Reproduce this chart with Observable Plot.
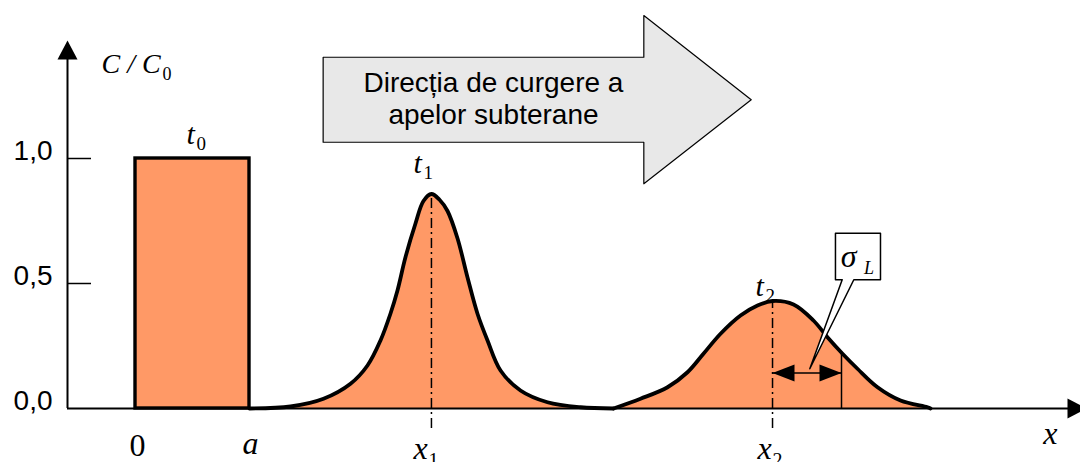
<!DOCTYPE html>
<html>
<head>
<meta charset="utf-8">
<script src="https://cdn.jsdelivr.net/npm/d3@7"></script>
<script src="https://cdn.jsdelivr.net/npm/@observablehq/plot@0.6"></script>
<style>
html, body { margin: 0; padding: 0; background: #fff; }
#chart svg { display: block; }
</style>
</head>
<body>
<div id="chart"></div>
<script>
// ---- Data (x in units of a, concentration C/C0) ----
const sourceX = [0, 1];          // slug from x = 0 to x = a
const sourceC = 1.0;             // C/C0 at t0

const plume1X = [1.0, 1.36, 1.649, 1.886, 2.035, 2.149, 2.237, 2.298, 2.368, 2.456, 2.526, 2.596, 2.667, 2.737, 2.825, 2.912, 3.0, 3.088, 3.202, 3.377, 3.614, 3.904, 4.193];
const plume1C = [0.0, 0.008, 0.039, 0.099, 0.172, 0.272, 0.38, 0.472, 0.605, 0.74, 0.83, 0.858, 0.835, 0.79, 0.68, 0.525, 0.379, 0.272, 0.152, 0.072, 0.025, 0.005, 0.0];

const plume2X = [4.193, 4.43, 4.667, 4.842, 4.982, 5.132, 5.307, 5.456, 5.588, 5.772, 5.947, 6.07, 6.202, 6.333, 6.509, 6.711, 6.947, 6.974];
const plume2C = [0.0, 0.039, 0.085, 0.145, 0.219, 0.299, 0.372, 0.412, 0.43, 0.416, 0.352, 0.285, 0.219, 0.159, 0.085, 0.032, 0.005, 0.0];

const peakX = [2.596, 5.588];   // x1, x2
const peakC = [0.858, 0.43];
const sigmaX = 6.193;            // x2 + sigma_L
const sigmaC = 0.22;
const sigmaArrowC = 0.142;

const yTicks = [0, 0.5, 1.0];
const flowText = "Direcția de curgere a\napelor subterane";

// annotation shapes (data units)
const flowArrow = [[1.646,1.405],[4.459,1.405],[4.459,1.572],[5.401,1.235],[4.459,0.899],[4.459,1.065],[1.646,1.065],[1.646,1.405]];
const callout = [[6.14,0.701],[6.535,0.701],[6.535,0.515],[6.301,0.515],[5.915,0.159],[6.199,0.515],[6.14,0.515],[6.14,0.701]];

// ---- Build tables ----
const plumes = [
  ...plume1X.map((x, i) => ({series: "t1", x, c: plume1C[i]})),
  ...plume2X.map((x, i) => ({series: "t2", x, c: plume2C[i]}))
];
const X0 = -0.5965;   // position of the vertical axis
const XMAX = 8.2895;
const ORANGE = "#FF9966";
const serif = "Liberation Serif, Times New Roman, serif";
const sans = "Liberation Sans, Arial, sans-serif";

const headShape = {
  draw(ctx, l, r) {
    ctx.moveTo(0, -l);
    ctx.lineTo(r, 0);
    ctx.lineTo(-r, 0);
    ctx.closePath();
  }
};

const peaks = peakX.map((x, i) => ({x, c: peakC[i]}));

const chart = Plot.plot({
  width: 1080,
  height: 462,
  marginTop: 0, marginRight: 0, marginBottom: 0, marginLeft: 67,
  x: {domain: [X0, XMAX], axis: null},
  y: {domain: [-0.216, 1.632], axis: null},
  style: {background: "#fff", overflow: "visible"},
  marks: [
    // filled plumes
    Plot.areaY(plumes, {x: "x", y: "c", z: "series", fill: ORANGE, curve: "catmull-rom"}),
    // initial slug
    Plot.rect([{x1: sourceX[0], x2: sourceX[1], y1: 0, y2: sourceC}], {x1: "x1", x2: "x2", y1: "y1", y2: "y2", fill: ORANGE, stroke: "#000", strokeWidth: 3.4}),
    // dash-dot centre lines
    Plot.ruleX(peaks, {x: "x", y1: -0.08, y2: "c", stroke: "#000", strokeWidth: 1.5, strokeDasharray: "10,4,2,4"}),
    // axes lines
    Plot.ruleY([0], {x1: X0, x2: 8.19, stroke: "#000", strokeWidth: 2}),
    Plot.ruleX([X0], {y1: 0, y2: 1.40, stroke: "#000", strokeWidth: 2}),
    Plot.ruleY(yTicks.filter(d => d > 0), {x1: X0, x2: X0 + 24 / 114, stroke: "#000", strokeWidth: 1.5}),
    Plot.vector([{x: X0, y: 1.472, a: 0}, {x: 8.342, y: 0, a: 90}], {x: "x", y: "y", rotate: "a", length: 19, r: 10, anchor: "end", shape: headShape, fill: "#000", stroke: "none"}),
    Plot.axisY(yTicks, {tickSize: 0, tickPadding: 15, tickFormat: d => d.toFixed(1).replace(".", ","), fontSize: 28, fontFamily: sans, dy: -7, label: null}),
    // plume outlines
    Plot.line(plumes, {x: "x", y: "c", z: "series", stroke: "#000", strokeWidth: 3.8, curve: "catmull-rom"}),
    // sigma_L
    Plot.ruleX([sigmaX], {y1: 0, y2: sigmaC, stroke: "#000", strokeWidth: 1.5}),
    Plot.ruleY([sigmaArrowC], {x1: peakX[1], x2: sigmaX, stroke: "#000", strokeWidth: 1.5}),
    Plot.vector([{x: peakX[1], y: sigmaArrowC, a: -90}, {x: sigmaX, y: sigmaArrowC, a: 90}], {x: "x", y: "y", rotate: "a", length: 22, r: 8.5, anchor: "end", shape: headShape, fill: "#000", stroke: "none"}),
    Plot.line(callout, {x: d => d[0], y: d => d[1], fill: "#fff", stroke: "#000", strokeWidth: 1.5}),
    Plot.text(["σ"], {x: 6.186, y: 0.565, text: d => d, fontFamily: serif, fontStyle: "italic", fontSize: 32, textAnchor: "start", lineAnchor: "bottom"}),
    Plot.text(["L"], {x: 6.39, y: 0.54, text: d => d, fontFamily: serif, fontStyle: "italic", fontSize: 18, textAnchor: "start", lineAnchor: "bottom"}),
    // flow direction arrow
    Plot.line(flowArrow, {x: d => d[0], y: d => d[1], fill: "#E8E8E8", stroke: "#000", strokeWidth: 1.2}),
    Plot.text([flowText], {x: 3.14, y: 1.139, text: d => d, fontFamily: sans, fontSize: 28, lineHeight: 1.13, lineAnchor: "bottom", textAnchor: "middle", fill: "#000"}),
    // y label C / C0
    Plot.text(["C / C"], {x: -0.298, y: 1.344, text: d => d, fontFamily: serif, fontStyle: "italic", fontSize: 28, textAnchor: "start", lineAnchor: "bottom"}),
    Plot.text(["0"], {x: 0.237, y: 1.316, text: d => d, fontFamily: serif, fontSize: 18, textAnchor: "start", lineAnchor: "bottom"}),
    // time labels
    Plot.text([{s: "0", x: 0.447, y: 1.06}, {s: "1", x: 2.439, y: 0.944}, {s: "2", x: 5.439, y: 0.452}], {x: "x", y: "y", text: () => "t", fontFamily: serif, fontStyle: "italic", fontSize: 30, textAnchor: "start", lineAnchor: "bottom"}),
    Plot.text([{s: "0", x: 0.447, y: 1.06}, {s: "1", x: 2.439, y: 0.944}, {s: "2", x: 5.439, y: 0.452}], {x: "x", y: "y", text: "s", dx: 10, dy: 6, fontFamily: serif, fontSize: 19, textAnchor: "start", lineAnchor: "bottom"}),
    // x labels
    Plot.text([{t: "0", x: sourceX[0] + 0.018, y: -0.188}], {x: "x", y: "y", text: "t", fontFamily: serif, fontSize: 32, textAnchor: "middle", lineAnchor: "bottom"}),
    Plot.text([{t: "a", x: sourceX[1] + 0.009, y: -0.18}, {t: "x", x: 8.026, y: -0.14}], {x: "x", y: "y", text: "t", fontFamily: serif, fontStyle: "italic", fontSize: 32, textAnchor: "middle", lineAnchor: "bottom"}),
    Plot.text([{s: "1", x: 2.439}, {s: "2", x: 5.456}], {x: "x", y: () => -0.2, text: () => "x", fontFamily: serif, fontStyle: "italic", fontSize: 32, textAnchor: "start", lineAnchor: "bottom"}),
    Plot.text([{s: "1", x: 2.439}, {s: "2", x: 5.456}], {x: "x", y: () => -0.2, text: "s", dx: 15, dy: 8, fontFamily: serif, fontSize: 20, textAnchor: "start", lineAnchor: "bottom"})
  ]
});
document.getElementById("chart").appendChild(chart);
</script>
</body>
</html>
